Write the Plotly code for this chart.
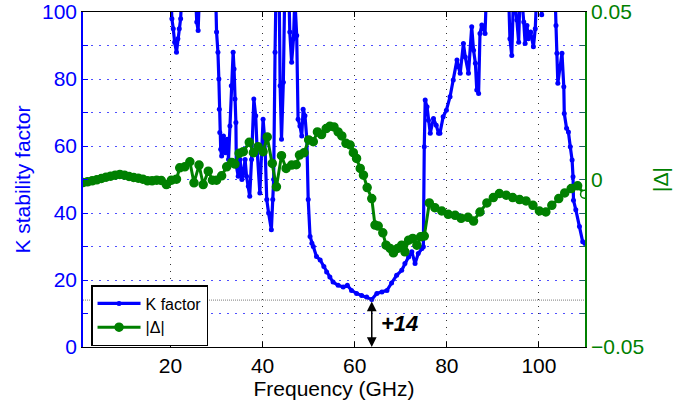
import plotly.graph_objects as go

# ---------------- data ----------------
# K stability factor (values > 100 leave the visible range)
k_freq = [20.0, 20.3, 20.6, 20.9, 21.3, 21.6, 21.9, 22.2, 22.5,
          25.4, 25.7, 26.0, 26.3,
          29.8, 30.0, 30.3, 30.5, 30.6, 30.7, 30.9, 31.1, 31.5, 31.9, 32.3, 32.6,
          32.9, 33.2, 33.6, 33.8, 34.0, 34.2, 34.3, 34.7, 35.1, 35.5, 35.8, 36.2,
          36.5, 36.9, 37.2, 37.6, 38.1, 38.5, 38.8, 39.4, 40.1, 40.5, 40.9, 41.3,
          41.9, 42.2, 42.4, 42.7, 42.9,
          43.6, 43.8, 44.1, 44.5, 44.8,
          45.7, 45.9, 46.3, 46.7, 47.0, 47.4, 47.7, 48.1, 48.5, 48.8, 49.2, 49.6,
          49.9, 50.3, 50.7, 51.0, 51.7, 52.5, 53.3, 53.9, 54.6, 55.3, 56.4, 57.5,
          58.4, 59.3, 60.4, 61.5, 62.6, 63.7, 64.8, 65.9, 67.0, 68.0, 69.1, 70.2,
          70.9, 71.7, 72.4, 73.1, 73.8, 74.6, 74.9, 75.1, 75.3, 75.7, 76.0, 76.4,
          77.1, 77.7, 78.2, 78.5, 79.2, 79.9, 80.7, 81.4, 82.2, 82.5, 82.9, 83.6,
          84.0, 84.7, 85.4, 85.8, 86.2, 86.5, 86.9, 87.2, 87.6, 88.3, 88.6,
          93.4, 93.7, 94.1, 94.5, 95.2, 95.6, 95.9,
          96.3, 96.7, 97.0, 97.4, 97.7, 98.2, 98.8, 99.2, 99.5,
          100.4, 100.6, 100.8,
          103.5, 103.7, 103.9, 104.1, 104.6, 105.0, 105.4, 105.5, 106.0, 106.4,
          106.8, 107.2, 107.4, 107.5, 108.0, 108.8, 109.5, 110.0]
k_vals = [108, 98, 95, 91, 88, 92, 95, 98, 107,
          106, 97, 94.5, 106,
          106, 94, 88, 80, 71, 64, 59, 57, 63, 58, 62, 56,
          66, 78, 88, 83, 74, 67, 54, 51, 56, 50, 52, 56,
          51, 48, 45, 56, 74, 69, 59, 46, 68, 61, 44, 40,
          35, 44, 50, 88, 106,
          106, 78, 62, 79, 106,
          106, 94, 85, 92, 104, 93, 68, 66, 63, 71, 69, 62,
          44, 33, 31, 30, 27, 26, 24, 22.4, 20.9, 19.4, 18.4, 17.9,
          18.4, 16.9, 16.0, 15.4, 14.9, 14.2, 16.0, 16.4, 16.9, 19.1, 21.4, 22.9,
          24.9, 26.9, 28.4, 24.9, 27.9, 29.4, 29.9, 59.8, 73.7, 71.7, 67.7, 63.8,
          68.2, 66.2, 63.8, 63.8, 68.7, 70.7, 74.7, 79.7, 85.7, 83.7, 81.7, 90.6,
          86.6, 81.7, 95.6, 88.6, 84.7, 76.7, 75.7, 93.6, 96.1, 93.6, 106,
          106, 92, 87, 106, 97.6, 91, 106,
          104, 97, 90.6, 96, 92, 94, 89.6, 95, 105,
          104, 99.2, 104,
          106, 96, 87.7, 78.7, 83.7, 87.7, 77.7, 69.7, 65.3, 64.2,
          59.8, 55.8, 50.8, 43.8, 41, 36, 31.4, 30.9]

# |Delta| (right axis)
d_freq = [1, 2, 3, 4, 5, 6, 7, 8, 9, 10, 11, 12, 13, 14, 15, 16, 17, 18, 19.1,
          20.2, 21.3, 22.0, 23.1, 24.2, 25.1, 26.2, 27.1, 28.2, 29.1, 30.0, 31.1,
          32.2, 33.3, 34.0, 34.9, 35.8, 37.1, 38.0, 39.0, 40.1, 41.0, 42.1, 43.0,
          44.1, 45.1, 46.3, 47.3, 48.0, 49.0, 50.0, 51.0, 51.9, 52.8, 53.8, 54.6,
          55.5, 56.4, 57.2, 58.1, 59.0, 59.7, 60.4, 61.2, 61.9, 62.7, 63.7, 64.4,
          65.1, 66.1, 66.8, 67.7, 68.4, 69.3, 70.2, 70.9, 71.7, 72.6, 73.5, 74.3,
          75.1, 76.2, 77.4, 78.9, 80.3, 81.8, 83.1, 84.6, 85.8, 87.2, 88.7, 90.1,
          91.4, 92.9, 94.3, 95.8, 97.2, 98.7, 100.1, 101.5, 102.8, 104.3, 105.6,
          107.0, 108.4, 109.9]
d_vals_milli = [-0.9, -0.7, -0.4, -0.1, 0.3, 0.7, 1.0, 1.3, 1.5, 1.3, 0.9, 0.6,
                0.4, 0.1, -0.4, -0.4, -0.2, -0.3, -1.5,
                -0.2, 0.1, 3.5, 3.8, 5.3, -1.0, 4.3, -1.5, 2.5, -0.2, -0.2, 1.1,
                3.8, 5.1, 4.6, 7.8, 8.3, 11.1, 8.0, 9.8, 8.3, 12.7, 4.8, -2.2,
                7.1, 3.3, 4.3, 4.4, 7.3, 8.0, 11.8, 11.3, 14.2, 13.4, 15.2, 15.9,
                15.7, 14.2, 13.0, 10.8, 10.3, 8.0, 6.3, 3.3, 1.3, -2.4, -5.7, -13.6,
                -13.9, -15.9, -19.6, -20.6, -21.9, -20.6, -19.6, -21.6, -18.1, -17.6,
                -19.6, -17.1, -16.9, -7.0, -8.4, -9.4, -10.4, -10.7, -11.6, -11.3,
                -12.4, -9.7, -7.0, -5.4, -4.2, -4.7, -5.4, -6.0, -6.4, -7.7, -9.4,
                -9.7, -7.7, -5.7, -4.0, -2.7, -1.9, -4.4]
d_vals = [v / 1000 for v in d_vals_milli]

# axis ticks
x_ticks = [20, 40, 60, 80, 100]
k_ticks = [0, 10, 20, 30, 40, 50, 60, 70, 80, 90, 100]
k_ticktext = ["0", "", "20", "", "40", "", "60", "", "80", "", "100"]
d_ticks = [-0.05, -0.04, -0.03, -0.02, -0.01, 0, 0.01, 0.02, 0.03, 0.04, 0.05]
d_ticktext = ["\u22120.05", "", "", "", "", "0", "", "", "", "", "0.05"]

# annotation of minimum K
ref_level = 14
ref_freq = 63.7
ref_label = "+14"

BLUE = "#0000ff"
GREEN = "#008000"
FONT = "Liberation Sans, Arial, sans-serif"

d_fill = [GREEN] * (len(d_freq) - 1) + ["white"]

fig = go.Figure()
fig.add_trace(go.Scatter(
    x=k_freq, y=k_vals, name="K factor", mode="lines+markers",
    line=dict(color=BLUE, width=3.2), marker=dict(size=5, color=BLUE),
    yaxis="y"))
fig.add_trace(go.Scatter(
    x=d_freq, y=d_vals, name="|\u0394|", mode="lines+markers",
    line=dict(color=GREEN, width=3),
    marker=dict(size=8, color=d_fill, line=dict(color=GREEN, width=1.5)),
    yaxis="y2"))

fig.add_shape(type="line", xref="x", yref="y", x0=1, x1=110,
              y0=ref_level, y1=ref_level,
              line=dict(color="rgba(90,90,90,0.8)", width=1, dash="1px,1px"))

fig.add_annotation(x=ref_freq, y=0, ax=ref_freq, ay=ref_level,
                   xref="x", yref="y", axref="x", ayref="y",
                   text="", showarrow=True, arrowhead=2, startarrowhead=2,
                   arrowside="end+start", arrowwidth=1.5, arrowsize=1.3,
                   arrowcolor="black")
fig.add_annotation(x=ref_freq + 1.5, y=ref_level / 2, xref="x", yref="y",
                   text="<b><i>" + ref_label + "</i></b>", showarrow=False,
                   xanchor="left", yanchor="middle",
                   font=dict(size=22, color="black", family=FONT))

fig.update_layout(
    width=689, height=405,
    margin=dict(l=83, r=104, t=12, b=58, autoexpand=False),
    paper_bgcolor="white", plot_bgcolor="white",
    font=dict(family=FONT, size=21, color="black"),
    showlegend=True,
    legend=dict(x=0.016, y=0.185, xanchor="left", yanchor="top",
                bordercolor="black", borderwidth=1.5, bgcolor="white",
                font=dict(size=16, color="black", family=FONT),
                itemwidth=43, tracegroupgap=0),
    xaxis=dict(range=[1, 110], tickvals=x_ticks, ticks="inside", ticklen=5,
               tickcolor="black", showline=True, linecolor="black",
               linewidth=1, mirror="ticks", showgrid=True,
               gridcolor="rgba(0,0,0,0.8)", griddash="1px,6px", gridwidth=1,
               zeroline=False, tickfont=dict(size=21, color="black"),
               automargin=False,
               title=dict(text="Frequency (GHz)", font=dict(size=21),
                          standoff=0)),
    yaxis=dict(range=[0, 100], tickvals=k_ticks, ticktext=k_ticktext,
               ticks="inside", ticklen=5, tickcolor=BLUE, showline=True,
               linecolor=BLUE, linewidth=1.5, showgrid=True,
               gridcolor="rgba(60,60,255,0.9)", griddash="2px,6px", gridwidth=1,
               zeroline=False, tickfont=dict(size=21, color=BLUE),
               automargin=False, ticklabeloverflow="allow",
               title=dict(text="K stability factor",
                          font=dict(size=21, color=BLUE), standoff=6)),
    yaxis2=dict(range=[-0.05, 0.05], overlaying="y", side="right",
                tickvals=d_ticks, ticktext=d_ticktext, ticks="inside",
                ticklen=5, tickcolor="#1f5f5f", showline=True,
                linecolor=GREEN, linewidth=1.5, showgrid=False,
                zeroline=False, tickfont=dict(size=21, color=GREEN),
                automargin=False, ticklabeloverflow="allow",
                title=dict(text="|\u0394|", font=dict(size=21, color=GREEN),
                           standoff=10)),
)

# remove the default page margin so the figure fills the window exactly
fig.write_html("out.html",
               config={"displayModeBar": False},
               post_script="document.body.style.margin='0';"
                           "document.body.style.overflow='hidden';")
